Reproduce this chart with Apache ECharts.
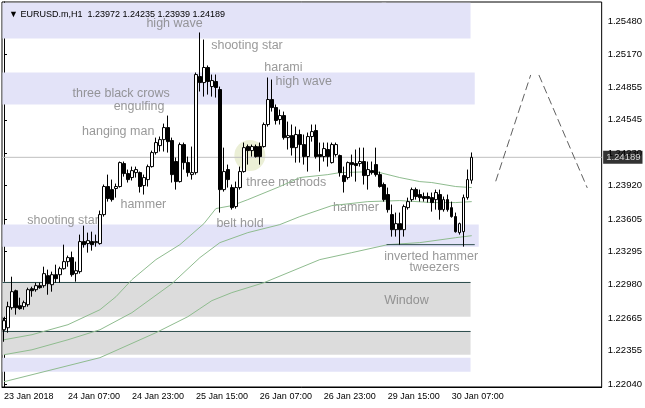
<!DOCTYPE html>
<html><head><meta charset="utf-8">
<script src="https://cdn.jsdelivr.net/npm/echarts@6/dist/echarts.min.js"></script>
<style>html,body{margin:0;padding:0;background:#fff}#c{width:645px;height:408px}</style>
</head><body><div id="c"></div>
<script>
const titleText = '\u25BC EURUSD.m,H1  1.23972 1.24235 1.23939 1.24189';
const lastPrice = 1.24189;
const slotCount = 150;
const xTickLabels = ['23 Jan 2018','24 Jan 07:00','24 Jan 23:00','25 Jan 15:00','26 Jan 07:00','26 Jan 23:00','29 Jan 15:00','30 Jan 07:00'];
const yTicks = [1.22040,1.22355,1.22665,1.22980,1.23295,1.23605,1.23920,1.24230,1.24545,1.24855,1.25170,1.25480];

const opens = [
1.22554,1.22573,1.22763,1.22924,1.22782,1.22773,1.22792,1.22943,1.22934,1.22972,
1.22972,1.23067,1.22981,1.23076,1.23076,1.23133,1.23200,1.23238,1.23086,1.23105,
1.23390,1.23371,1.23390,1.23380,1.23371,1.23646,1.23912,1.23883,1.23893,1.23912,
1.24130,1.24035,1.23997,1.24044,1.24044,1.23921,1.23978,1.24101,1.24234,1.24300,
1.24357,1.24471,1.24348,1.24149,1.23959,1.24310,1.24139,1.24025,1.24044,1.24955,
1.24898,1.25041,1.24860,1.24908,1.24832,1.23883,1.24073,1.23902,1.23722,1.23902,
1.24054,1.24291,1.24253,1.24291,1.24291,1.24291,1.24500,1.24737,1.24661,1.24547,
1.24585,1.24376,1.24395,1.24281,1.24405,1.24310,1.24196,1.24386,1.24443,1.24215,
1.24196,1.24263,1.24139,1.24215,1.24206,1.24016,1.23997,1.24139,1.24130,1.24130,
1.24149,1.24016,1.24063,1.24120,1.24025,1.23931,1.23836,1.23646,1.23503,1.23560,
1.23503,1.23712,1.23788,1.23883,1.23836,1.23817,1.23817,1.23807,1.23788,1.23836,
1.23693,1.23788,1.23712,1.23627,1.23475,1.23484,1.23807,1.23972];
const closes = [
1.22640,1.22773,1.22915,1.22763,1.22754,1.22811,1.22934,1.22924,1.22972,1.22953,
1.23086,1.22991,1.23076,1.23038,1.23133,1.23200,1.23238,1.23076,1.23114,1.23390,
1.23361,1.23399,1.23361,1.23390,1.23646,1.23912,1.23798,1.23788,1.23912,1.24139,
1.24035,1.23978,1.24063,1.24073,1.23912,1.23997,1.24101,1.24234,1.24329,1.24357,
1.24471,1.24338,1.24025,1.23959,1.24310,1.24139,1.24044,1.24044,1.24974,1.24898,
1.25041,1.24908,1.24917,1.24851,1.23883,1.24054,1.23978,1.23712,1.23902,1.24054,
1.24281,1.24253,1.24291,1.24196,1.24196,1.24500,1.24737,1.24661,1.24538,1.24585,
1.24376,1.24395,1.24281,1.24405,1.24310,1.24196,1.24386,1.24433,1.24196,1.24196,
1.24272,1.24196,1.24310,1.24310,1.24044,1.23959,1.24139,1.24120,1.24111,1.24149,
1.24016,1.24073,1.24044,1.24025,1.23912,1.23788,1.23693,1.23503,1.23560,1.23503,
1.23722,1.23769,1.23883,1.23817,1.23807,1.23798,1.23798,1.23760,1.23855,1.23693,
1.23788,1.23693,1.23627,1.23484,1.23560,1.23807,1.23978,1.24189];
const lows = [
1.22440,1.22526,1.22744,1.22697,1.22744,1.22744,1.22773,1.22867,1.22915,1.22943,
1.22953,1.22886,1.22915,1.23000,1.23000,1.23124,1.23152,1.23057,1.23010,1.23086,
1.23333,1.23285,1.23304,1.23342,1.23361,1.23627,1.23769,1.23769,1.23807,1.23902,
1.24006,1.23950,1.23969,1.23997,1.23855,1.23836,1.23912,1.24092,1.24215,1.24244,
1.24244,1.24234,1.23950,1.23883,1.23950,1.24073,1.24006,1.23978,1.24025,1.24813,
1.24765,1.24784,1.24765,1.24756,1.23665,1.23864,1.23902,1.23693,1.23703,1.23883,
1.24044,1.24120,1.24196,1.24187,1.24120,1.24281,1.24481,1.24623,1.24500,1.24500,
1.24357,1.24263,1.24206,1.24139,1.24139,1.24120,1.24054,1.24338,1.24177,1.24054,
1.24149,1.24101,1.24130,1.24196,1.24006,1.23855,1.23978,1.24006,1.23959,1.24101,
1.23931,1.23883,1.24025,1.24006,1.23902,1.23769,1.23665,1.23437,1.23437,1.23361,
1.23437,1.23693,1.23769,1.23788,1.23769,1.23769,1.23760,1.23674,1.23693,1.23598,
1.23674,1.23674,1.23617,1.23475,1.23456,1.23342,1.23788,1.23939];
const highs = [
1.22668,1.22820,1.23057,1.22934,1.22858,1.22830,1.22953,1.22962,1.23000,1.23000,
1.23152,1.23124,1.23105,1.23171,1.23152,1.23361,1.23257,1.23295,1.23200,1.23456,
1.23541,1.23475,1.23484,1.23456,1.23684,1.23931,1.24025,1.23978,1.23940,1.24149,
1.24149,1.24073,1.24101,1.24101,1.24054,1.24025,1.24120,1.24253,1.24376,1.24386,
1.24509,1.24585,1.24376,1.24187,1.24329,1.24329,1.24196,1.24291,1.24993,1.25373,
1.25306,1.25060,1.24974,1.24974,1.24860,1.24281,1.24120,1.23931,1.23959,1.24101,
1.24329,1.24310,1.24310,1.24310,1.24329,1.24519,1.24946,1.24927,1.24690,1.24642,
1.24623,1.24528,1.24500,1.24481,1.24452,1.24405,1.24424,1.24500,1.24500,1.24329,
1.24329,1.24329,1.24329,1.24329,1.24215,1.24101,1.24149,1.24215,1.24263,1.24281,
1.24281,1.24149,1.24149,1.24281,1.24054,1.23950,1.23902,1.23741,1.23665,1.23665,
1.23741,1.23807,1.23902,1.23902,1.23883,1.23855,1.23855,1.23855,1.23883,1.23883,
1.23817,1.23836,1.23769,1.23665,1.23570,1.23836,1.24073,1.24235];

// moving averages read at sample bars: [bar index, price]
const maFast = [[0,1.22459],[7,1.22507],[16,1.22602],[24,1.22744],[28,1.22867],[32,1.23029],[38,1.23219],[44,1.23361],[50,1.23560],[53,1.23703],[57,1.23731],[61,1.23788],[69,1.23912],[74,1.23997],[81,1.24025],[84,1.24044],[93,1.24054],[99,1.23997],[104,1.23959],[107,1.23950],[113,1.23912],[117,1.23902]];
const maMid = [[0,1.22317],[7,1.22364],[16,1.22459],[24,1.22554],[32,1.22716],[42,1.22991],[49,1.23238],[54,1.23380],[61,1.23475],[69,1.23551],[74,1.23627],[82,1.23731],[91,1.23769],[99,1.23779],[107,1.23760],[113,1.23760],[117,1.23769]];
const maSlow = [[0,1.22061],[12,1.22175],[24,1.22289],[38,1.22526],[46,1.22678],[49,1.22754],[52,1.22830],[57,1.22906],[65,1.23000],[79,1.23219],[87,1.23285],[96,1.23361],[104,1.23380],[113,1.23427],[117,1.23446]];

// zones: bar index start/end, price low/high
const zoneKinds = ['band','band','band','window','window','band'];
const zoneStart = [-0.37,-0.37,-0.37,-0.37,-0.37,-0.37];
const zoneEnd = [116.7,117.75,118.75,116.7,116.7,116.7];
const zoneLow = [1.25316,1.24690,1.23342,1.22678,1.22317,1.22156];
const zoneHigh = [1.25656,1.24993,1.23551,1.23010,1.22545,1.22289];

const tweezersLine = [[95.7,1.23361],[117.75,1.23361]];
const projUp = [[123,1.23962],[131.75,1.24970]];
const projDown = [[133.8,1.24970],[145.9,1.23899]];
const methodsCircle = [[61.5,1.24206]];
const priceLineX = [-0.5, 149.5];

const labelTexts = ['high wave','shooting star','harami','high wave','three black crows','engulfing','hanging man','hammer','shooting star','belt hold','three methods','hammer','inverted hammer','tweezers','Window'];
const labelX = [35.5,51.7,65,67.8,17,27.3,19.4,29,5.7,53,60.5,82.2,95,101.3,95];
const labelY = [1.25458,1.25249,1.25041,1.24911,1.24791,1.24668,1.24436,1.23741,1.23589,1.23557,1.23952,1.23715,1.23252,1.23143,1.22830];

const FONT = 'Liberation Sans';
const categories = Array.from({length: slotCount}, (_, i) => String(i));
const candles = opens.map((o, i) => [o, closes[i], lows[i], highs[i]]);

const chart = echarts.init(document.getElementById('c'), null, {renderer: 'canvas'});
const maLine = (data) => ({type:'line', xAxisIndex:1, data, symbol:'none', silent:true, z:4,
  lineStyle:{color:'#8fbc8f', width:1}, animation:false});

chart.setOption({
  animation: false,
  backgroundColor: '#ffffff',
  title: {text: titleText, left: 4, top: 5, textStyle: {fontSize: 9, fontWeight: 'normal', color: '#000', fontFamily: FONT}},
  grid: {left: 2, top: 2, width: 600, height: 385, show: true, borderColor: '#000', borderWidth: 1, backgroundColor: 'transparent'},
  xAxis: [{
    type: 'category', data: categories, boundaryGap: true,
    axisLine: {lineStyle: {color: '#000'}},
    axisTick: {alignWithLabel: true, length: 4, lineStyle: {color: '#000'},
      interval: (idx) => idx % 16 === 0 && idx < opens.length},
    axisLabel: {interval: (idx) => idx % 16 === 0 && idx < opens.length, align: 'left', margin: 5,
      fontSize: 9, color: '#000', fontFamily: FONT,
      formatter: (v, idx) => xTickLabels[idx / 16] || ''},
    splitLine: {show: false}
  }, {
    type: 'value', min: -0.5, max: slotCount - 0.5, show: false
  }],
  yAxis: {
    type: 'value', position: 'right', min: 1.22011, max: 1.25662, scale: true,
    axisLine: {show: true, lineStyle: {color: '#000'}},
    axisTick: {show: true, length: 3, customValues: yTicks, lineStyle: {color: '#000'}},
    axisLabel: {customValues: yTicks, margin: 6, fontSize: 9.5, color: '#000', fontFamily: FONT,
      formatter: (v) => v.toFixed(5)},
    splitLine: {show: false}
  },
  graphic: [{type: 'text', left: 380, top: 1, style: {text: '\u25BC', fill: '#b0b0b0', fontSize: 8}}],
  series: [
    {
      type: 'custom', xAxisIndex: 1, z: 1, silent: true, clip: true,
      data: zoneLow.map((lo, i) => [zoneStart[i], zoneEnd[i], lo, zoneHigh[i], i]),
      encode: {x: [0, 1], y: [2, 3]},
      renderItem: (params, api) => {
        const k = zoneKinds[api.value(4)];
        const p0 = api.coord([api.value(0), api.value(3)]);
        const p1 = api.coord([api.value(1), api.value(2)]);
        const ch = [{type: 'rect', shape: {x: p0[0], y: p0[1], width: p1[0] - p0[0], height: p1[1] - p0[1]},
          style: {fill: k === 'window' ? '#dcdcdc' : '#e3e3f8'}}];
        if (k === 'window') ch.push({type: 'line', shape: {x1: p0[0], y1: Math.round(p0[1]) + 0.5, x2: p1[0], y2: Math.round(p0[1]) + 0.5},
          style: {stroke: '#2f4f4f', lineWidth: 1}});
        return {type: 'group', children: ch};
      }
    },
    {type: 'scatter', xAxisIndex: 1, data: methodsCircle, symbolSize: 31, z: 2, silent: true,
      itemStyle: {color: '#e6ebcc'}},
    {type: 'scatter', xAxisIndex: 1, z: 3, silent: true, symbolSize: 1,
      itemStyle: {color: 'rgba(0,0,0,0)'},
      data: labelTexts.map((t, i) => ({name: t, value: [labelX[i], labelY[i]]})),
      label: {show: true, position: 'right', distance: 0, formatter: '{b}', color: '#808080',
        fontSize: 12.5, fontFamily: FONT}},
    {type: 'line', xAxisIndex: 1, data: priceLineX.map(x => [x, lastPrice]), symbol: 'none', silent: true, z: 3,
      lineStyle: {color: '#c0c0c0', width: 1}},
    {type: 'scatter', xAxisIndex: 1, data: [[priceLineX[1], lastPrice]], symbolSize: 1, clip: false, z: 8, silent: true,
      itemStyle: {color: 'rgba(0,0,0,0)'},
      label: {show: true, position: 'right', distance: 1, formatter: () => lastPrice.toFixed(5),
        backgroundColor: '#000', color: '#fff', padding: [2, 2, 1, 3], fontSize: 9.5, fontFamily: FONT}},
    maLine(maFast), maLine(maMid), maLine(maSlow),
    {type: 'line', xAxisIndex: 1, data: tweezersLine, symbol: 'none', silent: true, z: 4,
      lineStyle: {color: '#2f4f4f', width: 1}},
    {type: 'line', xAxisIndex: 1, data: projUp, symbol: 'none', silent: true, z: 5,
      lineStyle: {color: '#606060', width: 1, type: [8, 4]}},
    {type: 'line', xAxisIndex: 1, data: projDown, symbol: 'none', silent: true, z: 5,
      lineStyle: {color: '#606060', width: 1, type: [8, 4]}},
    {
      type: 'candlestick', xAxisIndex: 0, data: candles, barWidth: 3, z: 6,
      itemStyle: {color: '#ffffff', color0: '#000000', borderColor: '#000000', borderColor0: '#000000', borderWidth: 1}
    }
  ]
});
</script>
</body></html>
